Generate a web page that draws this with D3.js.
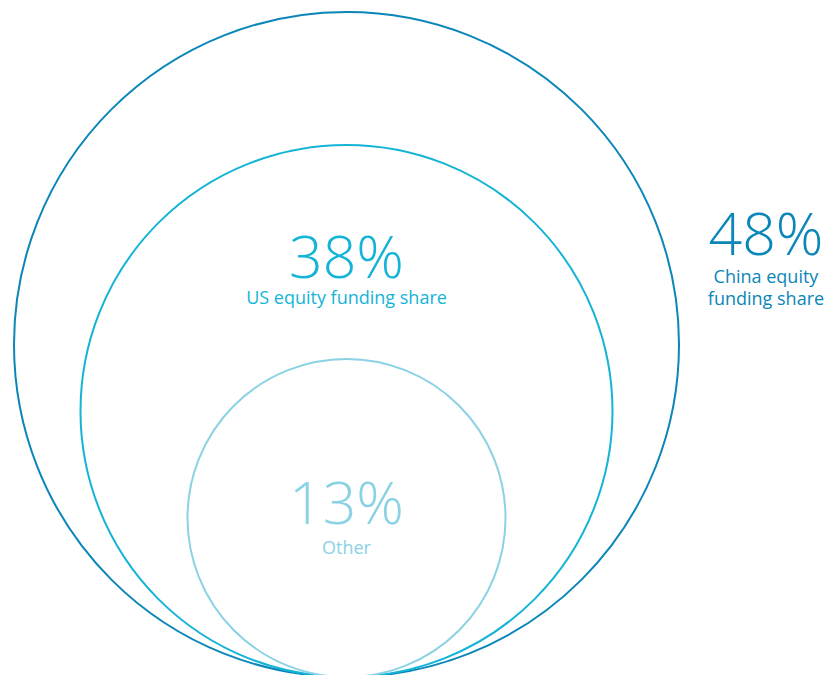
<!DOCTYPE html>
<html><head><meta charset="utf-8">
<script src="https://cdn.jsdelivr.net/npm/d3@7"></script>
<style>html,body{margin:0;padding:0;background:#fff;}svg{display:block;}</style>
</head><body>
<script>
const categories = ["China equity funding share", "US equity funding share", "Other"];
const values = [48, 38, 13];
const valueLabels = ["48%", "38%", "13%"];
const colors = ["#0a86b9", "#14b4d7", "#8ad2e4"];

const W = 826, H = 675;
const svg = d3.select("body").append("svg").attr("width", W).attr("height", H);

const rScale = d3.scaleLinear().domain([13, 38, 48]).range([159, 266, 332.5]);
const cx = 346.5, baseY = 677;

const g = svg.append("g");
g.selectAll("circle").data(values).join("circle")
  .attr("cx", cx)
  .attr("cy", d => baseY - rScale(d))
  .attr("r", d => rScale(d))
  .attr("fill", "none")
  .attr("stroke", (d, i) => colors[i])
  .attr("stroke-width", 2);

const font = "'Open Sans', Lato, sans-serif";
const tx = [766, cx, cx];
const bigY = [255, 278, 524];
const subLines = [["China equity", "funding share"], ["US equity funding share"], ["Other"]];
const subY = [[283, 305], [304], [554]];

values.forEach((v, i) => {
  svg.append("text").attr("x", tx[i]).attr("y", bigY[i])
    .attr("text-anchor", "middle").attr("fill", colors[i])
    .style("font-family", font).style("font-weight", 300).style("font-size", "59px")
    .text(valueLabels[i]);
  subLines[i].forEach((s, j) => {
    svg.append("text").attr("x", tx[i]).attr("y", subY[i][j])
      .attr("text-anchor", "middle").attr("fill", colors[i])
      .style("font-family", font).style("font-weight", 400).style("font-size", "18px")
      .text(s);
  });
});
</script>
</body></html>
